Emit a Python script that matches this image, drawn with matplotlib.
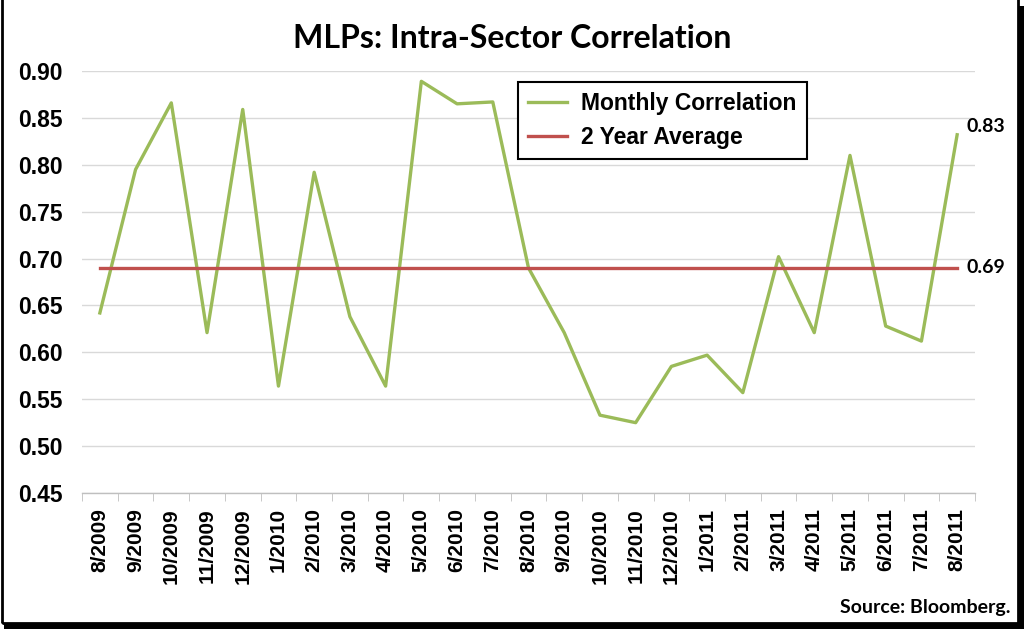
import matplotlib
matplotlib.use('Agg')
import matplotlib.pyplot as plt
from matplotlib.patches import Rectangle

months = ['8/2009', '9/2009', '10/2009', '11/2009', '12/2009', '1/2010', '2/2010',
          '3/2010', '4/2010', '5/2010', '6/2010', '7/2010', '8/2010', '9/2010',
          '10/2010', '11/2010', '12/2010', '1/2011', '2/2011', '3/2011', '4/2011',
          '5/2011', '6/2011', '7/2011', '8/2011']
monthly_corr = [0.642, 0.795, 0.866, 0.621, 0.859, 0.564, 0.792, 0.638, 0.564,
                0.889, 0.865, 0.867, 0.690, 0.621, 0.533, 0.525, 0.585, 0.597,
                0.557, 0.702, 0.621, 0.810, 0.628, 0.612, 0.832]
avg_2yr = [0.69] * len(months)
yticks = [0.45, 0.50, 0.55, 0.60, 0.65, 0.70, 0.75, 0.80, 0.85, 0.90]

GREEN = '#9BBB59'
RED = '#C0504D'
W, H = 1024, 629

fig = plt.figure(figsize=(W / 100, H / 100), dpi=100)
fig.patch.set_facecolor('white')
ax = fig.add_axes([82 / W, 1 - 493 / H, (975 - 82) / W, (493 - 71) / H])

x = list(range(len(months)))
ax.plot(x, monthly_corr, color=GREEN, lw=2.4, label='Monthly Correlation', zorder=3)
ax.plot(x, avg_2yr, color=RED, lw=2.4, label='2 Year Average', zorder=3)

ax.set_xlim(-0.5, len(months) - 0.5)
ax.set_ylim(0.45, 0.90)
ax.set_yticks(yticks)
ax.set_yticklabels([f'{v:.2f}' for v in yticks], fontsize=16.5, fontweight='bold',
                   family='Liberation Sans')
ax.tick_params(axis='y', length=0, pad=14)
ax.grid(axis='y', color='#D9D9D9', lw=1)
ax.set_axisbelow(True)

ax.set_xticks(x)
ax.set_xticklabels(months, rotation=90, fontsize=15, fontweight='bold',
                   family='Liberation Sans', va='top', ha='center')
ax.set_xticks([i - 0.5 for i in range(len(months) + 1)], minor=True)
ax.tick_params(axis='x', which='major', length=0, pad=11)
ax.tick_params(axis='x', which='minor', length=6, color='#BFBFBF', direction='out')

for s in ['top', 'right', 'left']:
    ax.spines[s].set_visible(False)
ax.spines['bottom'].set_color('#BFBFBF')
ax.spines['bottom'].set_linewidth(1)

ax.annotate(f'{monthly_corr[-1]:.2f}', xy=(x[-1], monthly_corr[-1]), xytext=(7, 6),
            textcoords='offset points', fontsize=14, fontweight='bold', family='Lato',
            ha='left', va='center')
ax.annotate(f'{avg_2yr[-1]:.2f}', xy=(x[-1], avg_2yr[-1]), xytext=(7, 0),
            textcoords='offset points', fontsize=14, fontweight='bold', family='Lato',
            ha='left', va='center')

leg = ax.legend(loc='upper left', bbox_to_anchor=(518 / W, 1 - 82 / H),
                bbox_transform=fig.transFigure, fancybox=False, framealpha=1,
                edgecolor='black', handlelength=1.7, borderaxespad=0,
                prop={'family': 'Liberation Sans', 'weight': 'bold', 'size': 16.5},
                labelspacing=0.45, borderpad=0.45, handletextpad=0.6)
leg.get_frame().set_linewidth(1.5)

fig.text(512 / W, 1 - 38 / H, 'MLPs: Intra-Sector Correlation', fontsize=23,
         fontweight='bold', family='Lato', ha='center', va='center')
fig.text(1010 / W, 1 - 607 / H, 'Source: Bloomberg.', fontsize=14,
         fontweight='bold', family='Lato', ha='right', va='center')

# frame with shadow on right and bottom
fig.add_artist(Rectangle((1.5 / W, 6 / H), (1016 / W), (626 / H), fill=False,
                         edgecolor='black', lw=2, transform=fig.transFigure))
fig.add_artist(Rectangle((1018 / W, 0), 6 / W, 623 / H, color='black', lw=0,
                         transform=fig.transFigure))
fig.add_artist(Rectangle((4 / W, 0), 1020 / W, 6 / H, color='black', lw=0,
                         transform=fig.transFigure))

fig.savefig('out.png', dpi=100)
